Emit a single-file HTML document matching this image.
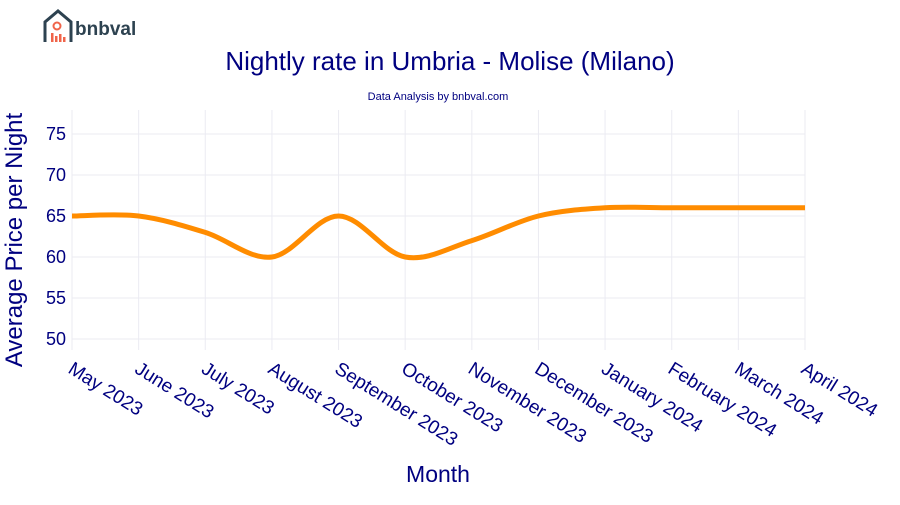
<!DOCTYPE html>
<html><head><meta charset="utf-8"><style>
body{margin:0;background:#fff;font-family:"Liberation Sans",Arial,sans-serif;}
svg text{font-family:"Liberation Sans",Arial,sans-serif;}
</style></head><body>
<svg id="c" width="900" height="500">
<g>
<path d="M45,42 V22 L58,11 L71,22 V42" fill="none" stroke="#2d4250" stroke-width="3"/>
<circle cx="57" cy="26" r="3.5" fill="none" stroke="#f0644a" stroke-width="2"/>
<rect x="51" y="33" width="2.5" height="9" fill="#f0644a"/><rect x="55" y="36" width="2.5" height="6" fill="#f0644a"/><rect x="59" y="34" width="2.5" height="8" fill="#f0644a"/><rect x="63" y="37" width="2.5" height="5" fill="#f0644a"/>
<text x="75" y="35" font-size="19" font-weight="bold" fill="#2d4250">bnbval</text>
</g>
<text x="450" y="70" text-anchor="middle" font-size="26" fill="#000080">Nightly rate in Umbria - Molise (Milano)</text>
<text x="438" y="100" text-anchor="middle" font-size="11" fill="#000080">Data Analysis by bnbval.com</text>
<g id="grid"></g><g id="yt"></g><g id="xt"></g>
<path id="line" fill="none" stroke="#ff8c00" stroke-width="5"/>
<text transform="translate(22,240) rotate(-90)" text-anchor="middle" font-size="24" fill="#000080">Average Price per Night</text>
<text x="438" y="482" text-anchor="middle" font-size="23" fill="#000080">Month</text>
</svg>
<script>
const months=["May 2023","June 2023","July 2023","August 2023","September 2023","October 2023","November 2023","December 2023","January 2024","February 2024","March 2024","April 2024"];
const prices=[65,65,63,60,65,60,62,65,66,66,66,66];
const yTicks=[50,55,60,65,70,75];
const NS="http://www.w3.org/2000/svg";
const x=i=>72+i*(805-72)/11, y=v=>339-(v-50)*8.2;
const g=document.getElementById('grid'),yt=document.getElementById('yt'),xt=document.getElementById('xt');
function mk(tag,a,p){const e=document.createElementNS(NS,tag);for(const k in a)e.setAttribute(k,a[k]);p.appendChild(e);return e;}
yTicks.forEach(v=>{const l=mk('line',{x1:72,x2:805,y1:y(v),y2:y(v),stroke:'#ebebf2'},g);


const t=mk('text',{x:66,y:y(v)+6,'text-anchor':'end','font-size':18,fill:'#000080'},yt);t.textContent=v;

});
months.forEach((m,i)=>{const l=mk('line',{x1:x(i),x2:x(i),y1:110,y2:350,stroke:'#ebebf2'},g);


const t=mk('text',{transform:`translate(${x(i)-5},${372}) rotate(32)`,'font-size':19,fill:'#000080'},xt);t.textContent=m;

});
const P=prices.map((v,i)=>[x(i),y(v)]);
let d=`M${P[0][0]},${P[0][1]}`;
for(let i=0;i<P.length-1;i++){const p0=P[Math.max(0,i-1)],p1=P[i],p2=P[i+1],p3=P[Math.min(P.length-1,i+2)],k=6;
d+=` C${p1[0]+(p2[0]-p0[0])/k},${p1[1]+(p2[1]-p0[1])/k} ${p2[0]-(p3[0]-p1[0])/k},${p2[1]-(p3[1]-p1[1])/k} ${p2[0]},${p2[1]}`;}
document.getElementById('line').setAttribute('d',d);
</script>
</body></html>
